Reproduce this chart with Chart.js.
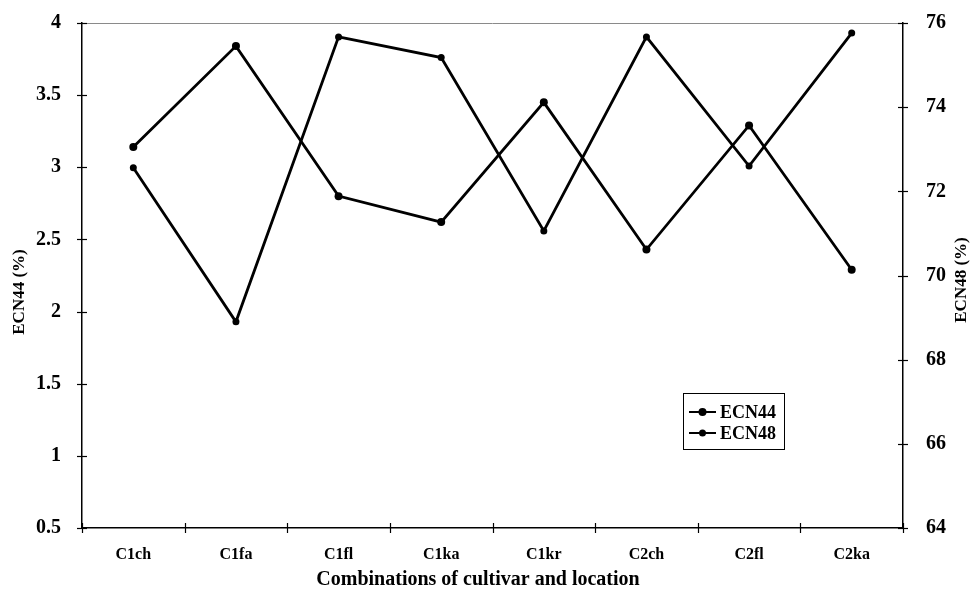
<!DOCTYPE html>
<html>
<head>
<meta charset="utf-8">
<title>ECN44 and ECN48 by cultivar and location</title>
<script src="https://cdn.jsdelivr.net/npm/chart.js@4.4.1/dist/chart.umd.min.js"></script>
<style>
  html, body { margin: 0; padding: 0; background: #ffffff; }
  #wrap { width: 973px; height: 591px; position: relative; }
</style>
</head>
<body>
<div id="wrap"><canvas id="chart" width="973" height="591"></canvas></div>
<script>
// Cultivar (C1, C2) x location combinations
const categories = ['C1ch', 'C1fa', 'C1fl', 'C1ka', 'C1kr', 'C2ch', 'C2fl', 'C2ka'];

// ECN44 content (%), left axis
const ecn44 = [3.14, 3.84, 2.80, 2.62, 3.45, 2.43, 3.29, 2.29];

// ECN48 content (%), right axis
const ecn48 = [72.56, 68.90, 75.67, 75.18, 71.06, 75.67, 72.60, 75.76];

// Axis ranges
const leftRange = { min: 0.5, max: 4, step: 0.5 };
const rightRange = { min: 64, max: 76, step: 2 };

// Axis titles
const xTitle = 'Combinations of cultivar and location';
const leftTitle = 'ECN44 (%)';
const rightTitleText = 'ECN48 (%)';

const SERIF = '"Liberation Serif", "Times New Roman", serif';

// Tick marks that cross the axis lines, plus the thin top frame line
const frameAndTicks = {
  id: 'frameAndTicks',
  afterDraw(chart) {
    const ctx = chart.ctx;
    const area = chart.chartArea;
    const half = 5;
    ctx.save();
    ctx.strokeStyle = '#8a8a8a';
    ctx.lineWidth = 1;
    ctx.beginPath();
    ctx.moveTo(area.left, area.top + 0.5);
    ctx.lineTo(area.right, area.top + 0.5);
    ctx.stroke();

    ctx.strokeStyle = '#000';
    ctx.lineWidth = 1.2;
    const xs = chart.scales.x;
    for (let i = 0; i <= categories.length; i++) {
      const px = Math.round(xs.getPixelForValue(i - 0.5)) + 0.5;
      ctx.beginPath();
      ctx.moveTo(px, area.bottom - half);
      ctx.lineTo(px, area.bottom + half);
      ctx.stroke();
    }
    ['y', 'y1'].forEach(id => {
      const s = chart.scales[id];
      const ax = id === 'y' ? area.left : area.right;
      s.ticks.forEach(t => {
        const py = Math.round(s.getPixelForValue(t.value)) + 0.5;
        ctx.beginPath();
        ctx.moveTo(ax - half, py);
        ctx.lineTo(ax + half, py);
        ctx.stroke();
      });
    });
    ctx.restore();
  }
};

// Axis titles: both vertical titles read bottom to top
const axisTitles = {
  id: 'axisTitles',
  afterDraw(chart) {
    const ctx = chart.ctx;
    ctx.save();
    ctx.fillStyle = '#000';
    ctx.textAlign = 'center';
    ctx.textBaseline = 'middle';

    ctx.font = 'bold 20px ' + SERIF;
    ctx.fillText(xTitle, 478, 580);

    ctx.font = 'bold 17px ' + SERIF;
    ctx.save();
    ctx.translate(20, 292);
    ctx.rotate(-Math.PI / 2);
    ctx.fillText(leftTitle, 0, 0);
    ctx.restore();

    ctx.save();
    ctx.translate(962, 280);
    ctx.rotate(-Math.PI / 2);
    ctx.fillText(rightTitleText, 0, 0);
    ctx.restore();
    ctx.restore();
  }
};

// Boxed legend inside the plot area
const boxLegend = {
  id: 'boxLegend',
  afterDraw(chart) {
    const ctx = chart.ctx;
    const x0 = 683, y0 = 393, w = 101, h = 56;
    ctx.save();
    ctx.fillStyle = '#fff';
    ctx.fillRect(x0, y0, w, h);
    ctx.strokeStyle = '#000';
    ctx.lineWidth = 1;
    ctx.strokeRect(x0 + 0.5, y0 + 0.5, w, h);
    ctx.font = 'bold 18px ' + SERIF;
    ctx.textBaseline = 'middle';
    ctx.fillStyle = '#000';
    chart.data.datasets.forEach((ds, i) => {
      const cy = y0 + 19 + i * 21;
      ctx.strokeStyle = '#000';
      ctx.lineWidth = 2;
      ctx.beginPath();
      ctx.moveTo(x0 + 6, cy);
      ctx.lineTo(x0 + 33, cy);
      ctx.stroke();
      ctx.beginPath();
      ctx.arc(x0 + 19.5, cy, ds.pointRadius, 0, Math.PI * 2);
      ctx.fill();
      ctx.fillText(ds.label, x0 + 37, cy + 1);
    });
    ctx.restore();
  }
};

// Fixed axis sizes so the plot area sits at a set place on the canvas
function fixVertical(width) {
  return s => {
    s.width = width;
    s.paddingTop = 0;
    s.paddingBottom = 0;
  };
}

new Chart(document.getElementById('chart'), {
  type: 'line',
  data: {
    labels: categories,
    datasets: [
      {
        label: 'ECN44',
        data: ecn44,
        yAxisID: 'y',
        borderColor: '#000',
        backgroundColor: '#000',
        borderWidth: 2.8,
        pointStyle: 'circle',
        pointRadius: 4,
        pointBackgroundColor: '#000',
        pointBorderWidth: 0,
        tension: 0
      },
      {
        label: 'ECN48',
        data: ecn48,
        yAxisID: 'y1',
        borderColor: '#000',
        backgroundColor: '#000',
        borderWidth: 2.8,
        pointStyle: 'circle',
        pointRadius: 3.5,
        pointBackgroundColor: '#000',
        pointBorderWidth: 0,
        tension: 0
      }
    ]
  },
  options: {
    responsive: false,
    animation: false,
    devicePixelRatio: 1,
    layout: { padding: { top: 23, left: 0, right: 0, bottom: 0 } },
    plugins: {
      legend: { display: false },
      tooltip: { enabled: false }
    },
    scales: {
      x: {
        type: 'category',
        offset: true,
        afterFit(s) { s.height = 63; s.paddingLeft = 0; s.paddingRight = 0; },
        grid: { display: false, offset: true },
        border: { display: true, color: '#000', width: 1.5 },
        ticks: {
          color: '#000',
          font: { family: SERIF, size: 16, weight: 'bold' },
          padding: 9,
          maxRotation: 0
        }
      },
      y: {
        position: 'left',
        min: leftRange.min,
        max: leftRange.max,
        afterFit: fixVertical(82),
        grid: { display: false },
        border: { display: true, color: '#000', width: 1.5 },
        ticks: {
          stepSize: leftRange.step,
          color: '#000',
          font: { family: SERIF, size: 20, weight: 'bold' },
          padding: 13,
          callback: v => String(v)
        }
      },
      y1: {
        position: 'right',
        min: rightRange.min,
        max: rightRange.max,
        afterFit: fixVertical(70),
        grid: { display: false },
        border: { display: true, color: '#000', width: 1.5 },
        ticks: {
          stepSize: rightRange.step,
          color: '#000',
          font: { family: SERIF, size: 20, weight: 'bold' },
          padding: 15,
          callback: v => String(v)
        }
      }
    }
  },
  plugins: [frameAndTicks, axisTitles, boxLegend]
});
</script>
</body>
</html>
